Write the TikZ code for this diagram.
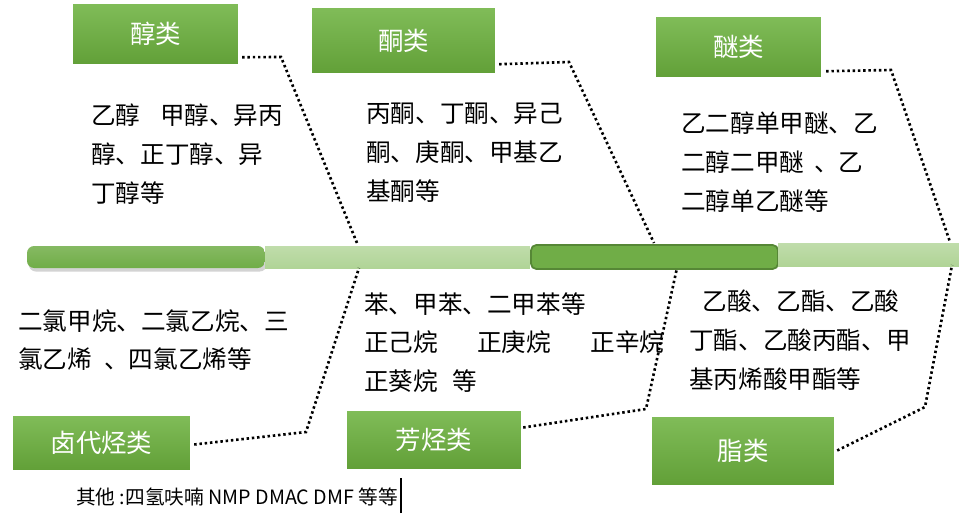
\documentclass[tikz,border=0pt]{standalone}
\usepackage{fontspec}
\setmainfont{Noto Sans CJK SC}
\usepackage{tikz}
\usetikzlibrary{positioning,calc,shadows}
\definecolor{boxtop}{RGB}{128,188,88}
\definecolor{boxbot}{RGB}{98,160,56}
\definecolor{barlight}{RGB}{176,212,150}
\definecolor{bardark}{RGB}{112,173,71}
\definecolor{barline}{RGB}{86,135,54}

\begin{document}
\begin{tikzpicture}[x=0.02cm,y=0.02cm,line width=1.4pt]
	\tikzstyle{kind}=[top color=boxtop,bottom color=boxbot,text=white,inner sep=0pt,font=\fontsize{14.5}{16}\selectfont]
	\tikzstyle{note}=[anchor=north west,align=left,inner sep=0pt,font=\fontsize{14}{22}\selectfont]
	\tikzstyle{bar}=[inner sep=0pt,minimum height=0.44cm]
	\tikzstyle{dots}=[dash pattern=on 1.4pt off 1.6pt,line width=1.5pt]
	\useasboundingbox (0,0) rectangle (959,515);
	
	\node[bar, minimum width=4.76cm, rounded corners=4pt, top color=bardark!85, bottom color=bardark, drop shadow={opacity=0.35,shadow xshift=1pt,shadow yshift=-2pt}] (B1) at (146,258) {};
	\node[bar, minimum width=5.3cm, top color=barlight!80, bottom color=barlight] (B2) at (397.5,258) {};
	\node[bar, minimum width=4.94cm, minimum height=0.48cm, rounded corners=3pt, fill=bardark, draw=barline, line width=1pt] (B3) at (654.5,258) {};
	\node[bar, minimum width=3.62cm, minimum height=0.46cm, top color=barlight!80, bottom color=barlight] (B4) at (868.5,260.5) {};
	
	\node[kind, minimum width=3.3cm, minimum height=1.2cm]  (K1) at (155.5,481)  {醇类};
	\node[kind, minimum width=3.66cm, minimum height=1.3cm] (K2) at (403.5,474.5) {酮类};
	\node[kind, minimum width=3.3cm, minimum height=1.2cm]  (K3) at (738.5,468)  {醚类};
	\node[kind, minimum width=3.54cm, minimum height=1.06cm] (K4) at (101.5,72.5) {卤代烃类};
	\node[kind, minimum width=3.48cm, minimum height=1.14cm] (K5) at (434,75.5)   {芳烃类};
	\node[kind, minimum width=3.64cm, minimum height=1.34cm] (K6) at (743,64.5)   {脂类};
	
	\node[note] (T1) at (90,412)  {乙醇\hspace{0.8em}甲醇、异丙\\醇、正丁醇、异\\丁醇等};
	\node[note] (T2) at (365,413) {丙酮、丁酮、异己\\酮、庚酮、甲基乙\\基酮等};
	\node[note] (T3) at (680,404) {乙二醇单甲醚、乙\\二醇二甲醚\hspace{0.4em}、乙\\二醇单乙醚等};
	\node[note] (T4) at (17,207)  {二氯甲烷、二氯乙烷、三\\氯乙烯\hspace{0.5em}、四氯乙烯等};
	\node[note] (T5) at (363,224) {苯、甲苯、二甲苯等\\正己烷\hspace{1.6em}正庚烷\hspace{1.6em}正辛烷\\正葵烷\hspace{0.6em}等};
	\node[note] (T6) at (688,226) {\hspace*{0.55em}乙酸、乙酯、乙酸\\丁酯、乙酸丙酯、甲\\基丙烯酸甲酯等};
	\node[anchor=west, inner sep=0pt, font=\fontsize{11.2}{13}\selectfont] (T7) at (75,18) {其他 :四氢呋喃 NMP DMAC DMF 等等};
	\draw[line width=0.9pt] ($(T7.east)+(2,-16)$) -- ++(0,35);
	
	\coordinate (M1) at (281,458);
	\coordinate (E1) at (357,272);
	\coordinate (M2) at (569,453);
	\coordinate (E2) at (654,272);
	\coordinate (M3) at (891,445);
	\coordinate (E3) at (950,273);
	\coordinate (M4) at (306,83);
	\coordinate (E4) at (359,247);
	\coordinate (M5) at (646,106);
	\coordinate (E5) at (677,247);
	\coordinate (M6) at (925,108);
	\coordinate (E6) at (952,250);
	
	\draw[dots] ($(K1.south east)+(3,8)$) -- (M1) -- (E1);
	\draw[dots] ($(K2.south east)+(3,10)$) -- (M2) -- (E2);
	\draw[dots] ($(K3.south east)+(4,7)$) -- (M3) -- (E3);
	\draw[dots] ($(K4.east)+(3,-2)$) -- (M4) -- (E4);
	\draw[dots] ($(K5.east)+(1,12)$) -- (M5) -- (E5);
	\draw[dots] ($(K6.east)+(2,0)$) -- (M6) -- (E6);
\end{tikzpicture}
\end{document}
